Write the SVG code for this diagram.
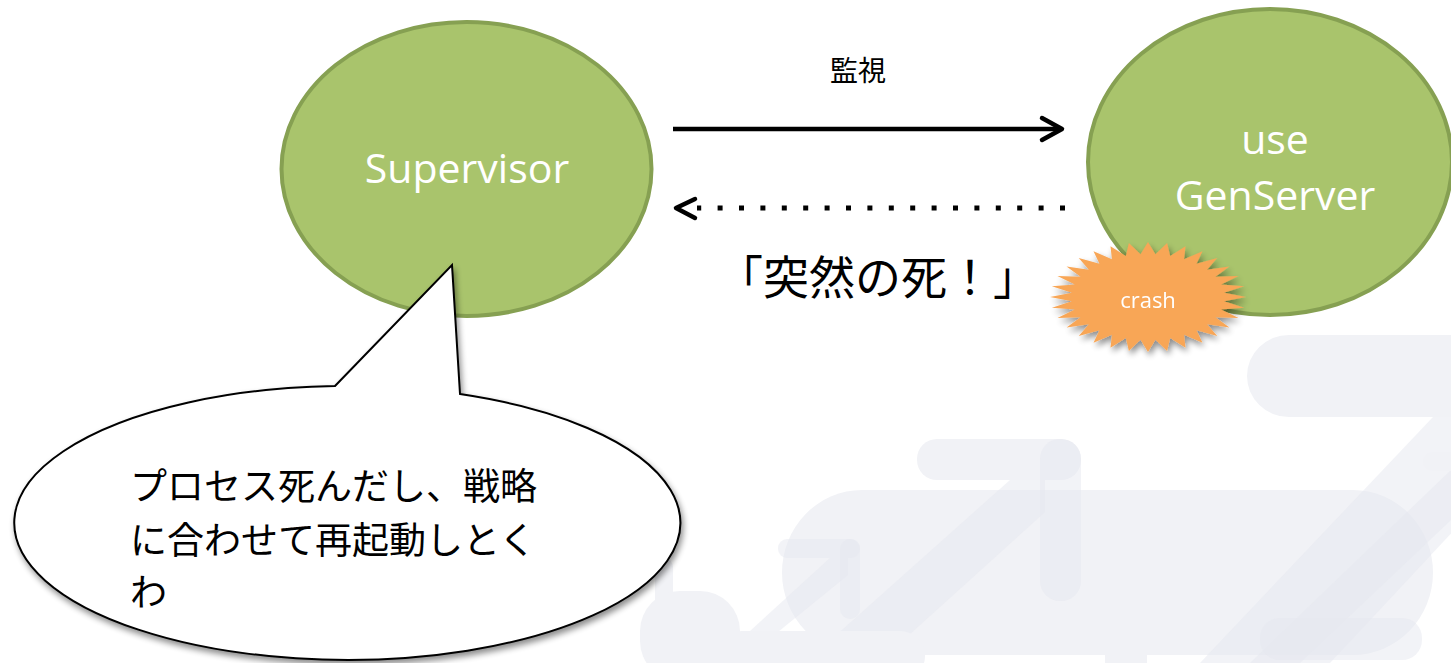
<svg xmlns="http://www.w3.org/2000/svg" width="1451" height="663" viewBox="0 0 1451 663">
<defs>
<style>
.wm{fill:#f1f2f6}
.wb{fill:#e6e8f0;opacity:0.5}
.node{fill:#a9c46c;stroke:#86a052;stroke-width:4}
.nlabel{font-family:"Open Sans","Noto Sans",sans-serif;font-size:41px;fill:#ffffff;text-anchor:middle}
.jp{font-family:"Noto Sans CJK JP","Noto Sans",sans-serif;fill:#000000}
.conn{fill:none;stroke:#000000;stroke-width:4.5}
</style>
<filter id="sh" x="-20%" y="-20%" width="140%" height="150%">
<feGaussianBlur in="SourceAlpha" stdDeviation="3"/>
<feOffset dx="2" dy="4" result="b"/>
<feComponentTransfer><feFuncA type="linear" slope="0.45"/></feComponentTransfer>
<feMerge><feMergeNode/><feMergeNode in="SourceGraphic"/></feMerge>
</filter>
</defs>
<rect width="1451" height="663" fill="#ffffff"/>

<g id="watermark">
<rect class="wm" x="782" y="490" width="651" height="165" rx="80" ry="90"/>
<rect class="wm" x="1247" y="335" width="260" height="82" rx="42" ry="41"/>
<polygon class="wb" points="1433,417 1560,417 1330,663 1200,663"/>
<polygon class="wb" points="1451,470 1451,520 1300,663 1250,663"/>
<rect class="wm" x="1423" y="452" width="60" height="19" rx="9"/>
<rect class="wm" x="917" y="439" width="164" height="41" rx="20"/>
<rect class="wb" x="1040" y="439" width="41" height="162" rx="20"/>
<polygon class="wb" points="1010,480 1045,480 1045,512 878,663 805,663"/>
<rect class="wb" x="778" y="539" width="82" height="19" rx="9"/>
<rect class="wb" x="840" y="539" width="20" height="80" rx="10"/>
<polygon class="wb" points="830,558 848,558 848,575 740,663 715,663"/>
<rect class="wm" x="655" y="558" width="18" height="76" rx="9"/>
<rect class="wm" x="640" y="591" width="100" height="90" rx="40"/>
<rect class="wm" x="717" y="631" width="208" height="50" rx="25"/>
<rect class="wb" x="1260" y="618" width="162" height="42" rx="20"/>
<rect class="wm" x="1105" y="614" width="42" height="60" rx="12"/>
</g>

<g id="supervisor">
<ellipse class="node" cx="466.5" cy="169" rx="185" ry="147"/>
<text class="nlabel" x="467" y="183">Supervisor</text>
</g>

<g id="genserver">
<ellipse class="node" cx="1270" cy="162" rx="182" ry="153"/>
<text class="nlabel" x="1275" y="154">use</text>
<text class="nlabel" x="1275" y="210">GenServer</text>
</g>

<g id="connectors">
<line class="conn" x1="673" y1="129" x2="1059" y2="129"/>
<polyline class="conn" points="1042,118 1062,129 1042,140" stroke-linecap="round" stroke-linejoin="round"/>
<line x1="1065" y1="208" x2="697" y2="208" stroke="#000" stroke-width="5" stroke-dasharray="5 16.4"/>
<polyline class="conn" points="695,199 676,208 695,218" stroke-linecap="round" stroke-linejoin="round"/>
<text class="jp" x="858" y="81" font-size="28" text-anchor="middle">監視</text>
<text class="jp" x="878" y="294" font-size="46" text-anchor="middle">「突然の死！」</text>
</g>

<g id="crash" filter="url(#sh)">
<polygon fill="#f8a656" transform="translate(1148,297) scale(98,55)" points="1,0 .776,.076 .981,.195 .746,.226 .924,.383 .688,.368 .831,.556 .603,.495 .707,.707 .495,.603 .556,.831 .368,.688 .383,.924 .226,.746 .195,.981 .076,.776 0,1 -.076,.776 -.195,.981 -.226,.746 -.383,.924 -.368,.688 -.556,.831 -.495,.603 -.707,.707 -.603,.495 -.831,.556 -.688,.368 -.924,.383 -.746,.226 -.981,.195 -.776,.076 -1,0 -.776,-.076 -.981,-.195 -.746,-.226 -.924,-.383 -.688,-.368 -.831,-.556 -.603,-.495 -.707,-.707 -.495,-.603 -.556,-.831 -.368,-.688 -.383,-.924 -.226,-.746 -.195,-.981 -.076,-.776 0,-1 .076,-.776 .195,-.981 .226,-.746 .383,-.924 .368,-.688 .556,-.831 .495,-.603 .707,-.707 .603,-.495 .831,-.556 .688,-.368 .924,-.383 .746,-.226 .981,-.195 .776,-.076"/>
<text x="1148" y="308" font-family="'Open Sans','Noto Sans',sans-serif" font-size="22" fill="#ffffff" text-anchor="middle">crash</text>
</g>

<g id="bubble">
<path d="M335,386 L452,265 L460,394 A333,137 0 1 1 335,386 Z" fill="#ffffff" stroke="#000000" stroke-width="2" stroke-linejoin="miter" filter="url(#sh)"/>
<text class="jp" font-size="37" x="130" y="500">プロセス死んだし、戦略</text>
<text class="jp" font-size="37" x="130" y="554">に合わせて再起動しとく</text>
<text class="jp" font-size="37" x="130" y="606">わ</text>
</g>
</svg>
